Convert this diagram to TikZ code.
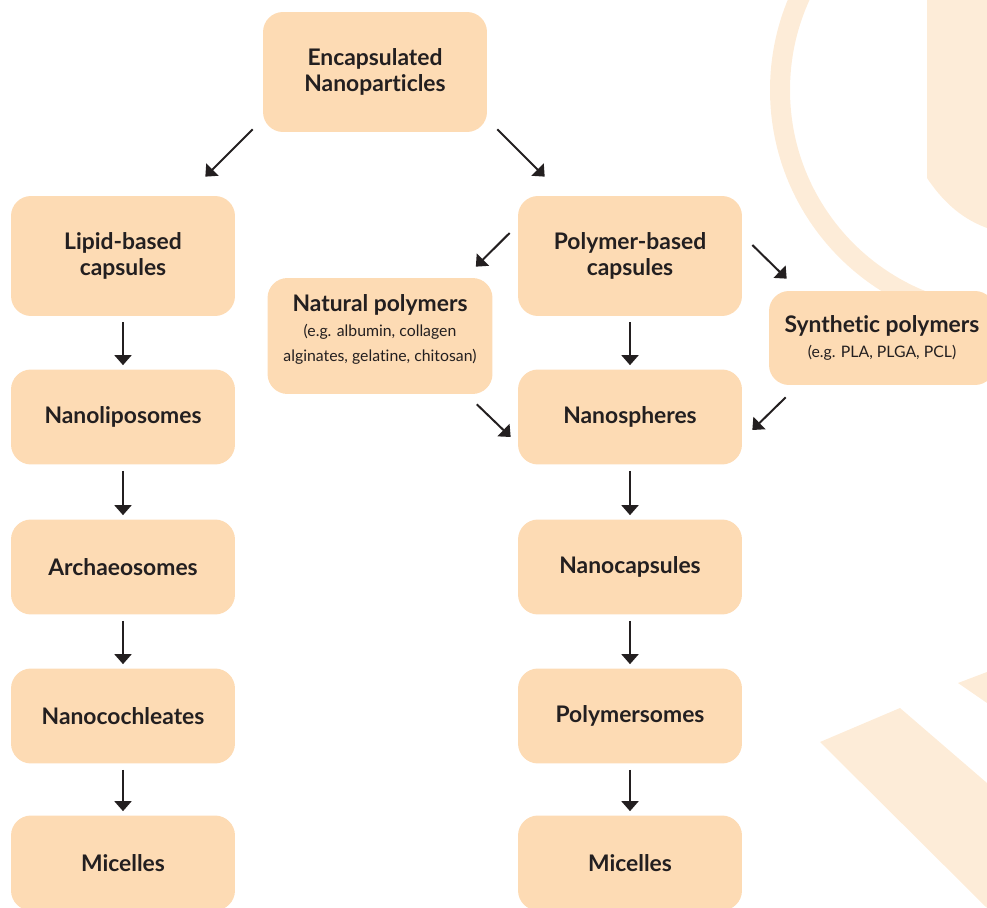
\documentclass[tikz,border=0pt]{standalone}
\usepackage{fontspec}
\setmainfont{Lato}[Ligatures=NoCommon]
\usepackage{tikz}
\usetikzlibrary{arrows.meta}
\definecolor{boxfill}{HTML}{FDDBB4}
\definecolor{wmark}{HTML}{FDECD8}
\definecolor{txt}{HTML}{231F20}

\begin{document}
\begin{tikzpicture}[x=0.02cm,y=-0.02cm,
  box/.style={rectangle,rounded corners=0.4cm,fill=boxfill,text=txt,
    minimum width=4.48cm,minimum height=1.9cm,align=center,inner sep=0pt,
    font=\bfseries\fontsize{13}{15}\selectfont},
  tallbox/.style={box,minimum height=2.4cm},
  arr/.style={draw=txt,line width=0.04cm,-{Triangle[length=0.2cm,width=0.34cm]}},
  vline/.style={arr,shorten <=0.12cm,shorten >=0.08cm}]

\def\lx{123}
\def\rx{630}
\newcommand{\smalltxt}{\mdseries\fontsize{9}{11.5}\selectfont}

\useasboundingbox (0,0) rectangle (987,908);

\draw[wmark,line width=0.4cm] (1007,90) circle (227);
\fill[wmark] (927,0) -- (927,178) .. controls (945,205) and (965,220) .. (987,228) -- (987,0) -- cycle;
\fill[wmark] (820,742) -- (900,708) -- (987,783) -- (987,908) -- cycle;
\fill[wmark] (958,683) -- (987,672) -- (987,703) -- cycle;

\node[tallbox] (enc) at (375,72) {Encapsulated\\Nanoparticles};

\node[tallbox] (lip) at (\lx,256) {Lipid-based\\capsules};
\node[box] (lipo) at (\lx,417) {Nanoliposomes};
\node[box] (arch) at (\lx,567) {Archaeosomes};
\node[box] (coch) at (\lx,716) {Nanocochleates};
\node[box] (lmic) at (\lx,863) {Micelles};

\node[tallbox] (poly) at (\rx,256) {Polymer-based\\capsules};
\node[box] (nsph) at (\rx,417) {Nanospheres};
\node[box] (ncap) at (\rx,567) {Nanocapsules};
\node[box] (psom) at (\rx,716) {Polymersomes};
\node[box] (rmic) at (\rx,863) {Micelles};

\node[box,minimum width=4.5cm,minimum height=2.32cm,text depth=9pt] (nat) at (380,336)
  {Natural polymers\\[-0.8pt]{\smalltxt (e.g. albumin, collagen}\\[-0.8pt]{\smalltxt alginates, gelatine, chitosan)}};
\node[box,minimum width=4.52cm,minimum height=1.88cm] (syn) at (882,338)
  {Synthetic polymers\\[-0.7pt]{\smalltxt (e.g. PLA, PLGA, PCL)}};

\draw[arr] ([shift={(-10,-3)}]enc.south west) -- ([shift={(-30,-19)}]lip.north east);
\draw[arr] ([shift={(10,-3)}]enc.south east) -- ([shift={(27,-19)}]poly.north west);
\draw[arr] ([shift={(-8,-23)}]poly.west) -- ([shift={(-17,-11)}]nat.north east);
\draw[arr] ([shift={(10,-11)}]poly.east) -- ([shift={(18,-12)}]syn.north west);
\draw[arr] ([shift={(-16,10)}]nat.south east) -- ([shift={(-7,20)}]nsph.west);
\draw[arr] ([shift={(17,12)}]syn.south west) -- ([shift={(10,13)}]nsph.east);

\draw[vline] (lip) -- (lipo);
\draw[vline] (lipo) -- (arch);
\draw[vline] (arch) -- (coch);
\draw[vline] (coch) -- (lmic);
\draw[vline] (poly) -- (nsph);
\draw[vline] (nsph) -- (ncap);
\draw[vline] (ncap) -- (psom);
\draw[vline] (psom) -- (rmic);

\end{tikzpicture}
\end{document}
